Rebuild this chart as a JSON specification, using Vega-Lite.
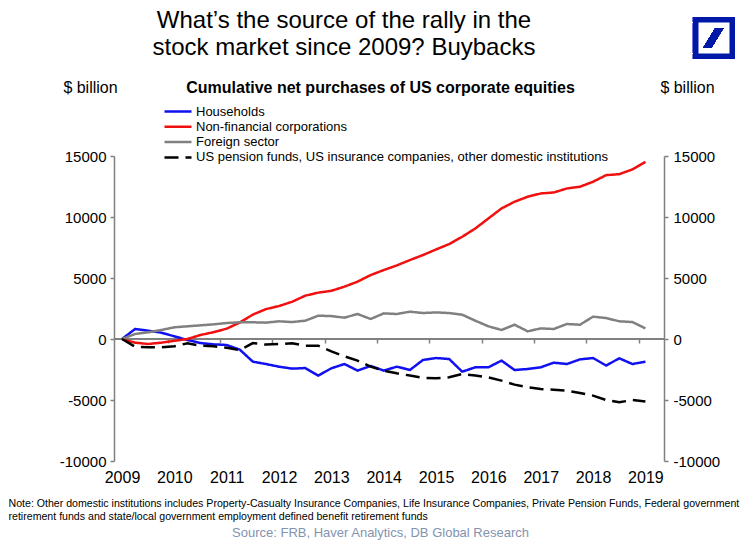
{
  "$schema": "https://vega.github.io/schema/vega-lite/v6.json",
  "width": 550,
  "height": 305,
  "autosize": "none",
  "padding": {"left": 114, "top": 156, "right": 91, "bottom": 86},
  "background": "white",
  "title": {
    "text": ["What’s the source of the rally in the", "stock market since 2009? Buybacks"],
    "font": "Liberation Sans",
    "fontSize": 24,
    "fontWeight": "normal",
    "color": "black",
    "anchor": "middle",
    "frame": "group",
    "dx": -45,
    "dy": 51,
    "offset": 0,
    "lineHeight": 27
  },
  "data": {
    "values": [
      {"t": 2009.00, "hh": 0, "nfc": 0, "fs": 0, "pen": 0},
      {"t": 2009.25, "hh": 820, "nfc": -300, "fs": 410, "pen": -630},
      {"t": 2009.50, "hh": 680, "nfc": -410, "fs": 550, "pen": -680},
      {"t": 2009.75, "hh": 520, "nfc": -300, "fs": 740, "pen": -680},
      {"t": 2010.00, "hh": 220, "nfc": -150, "fs": 960, "pen": -600},
      {"t": 2010.25, "hh": -80, "nfc": 0, "fs": 1040, "pen": -350},
      {"t": 2010.50, "hh": -330, "nfc": 330, "fs": 1120, "pen": -550},
      {"t": 2010.75, "hh": -440, "nfc": 560, "fs": 1200, "pen": -600},
      {"t": 2011.00, "hh": -490, "nfc": 850, "fs": 1310, "pen": -710},
      {"t": 2011.25, "hh": -870, "nfc": 1350, "fs": 1370, "pen": -900},
      {"t": 2011.50, "hh": -1860, "nfc": 2000, "fs": 1370, "pen": -330},
      {"t": 2011.75, "hh": -2050, "nfc": 2450, "fs": 1340, "pen": -460},
      {"t": 2012.00, "hh": -2270, "nfc": 2700, "fs": 1450, "pen": -410},
      {"t": 2012.25, "hh": -2430, "nfc": 3050, "fs": 1390, "pen": -350},
      {"t": 2012.50, "hh": -2380, "nfc": 3550, "fs": 1500, "pen": -550},
      {"t": 2012.75, "hh": -3000, "nfc": 3800, "fs": 1910, "pen": -550},
      {"t": 2013.00, "hh": -2400, "nfc": 3950, "fs": 1880, "pen": -1010},
      {"t": 2013.25, "hh": -2050, "nfc": 4290, "fs": 1750, "pen": -1420},
      {"t": 2013.50, "hh": -2590, "nfc": 4700, "fs": 2050, "pen": -1770},
      {"t": 2013.75, "hh": -2210, "nfc": 5240, "fs": 1640, "pen": -2270},
      {"t": 2014.00, "hh": -2590, "nfc": 5650, "fs": 2100, "pen": -2590},
      {"t": 2014.25, "hh": -2270, "nfc": 6030, "fs": 2050, "pen": -2810},
      {"t": 2014.50, "hh": -2540, "nfc": 6470, "fs": 2240, "pen": -3000},
      {"t": 2014.75, "hh": -1720, "nfc": 6880, "fs": 2130, "pen": -3190},
      {"t": 2015.00, "hh": -1560, "nfc": 7340, "fs": 2180, "pen": -3220},
      {"t": 2015.25, "hh": -1640, "nfc": 7780, "fs": 2130, "pen": -3140},
      {"t": 2015.50, "hh": -2680, "nfc": 8380, "fs": 1990, "pen": -2870},
      {"t": 2015.75, "hh": -2320, "nfc": 9060, "fs": 1500, "pen": -3000},
      {"t": 2016.00, "hh": -2320, "nfc": 9880, "fs": 1040, "pen": -3140},
      {"t": 2016.25, "hh": -1770, "nfc": 10700, "fs": 740, "pen": -3410},
      {"t": 2016.50, "hh": -2540, "nfc": 11250, "fs": 1170, "pen": -3740},
      {"t": 2016.75, "hh": -2460, "nfc": 11660, "fs": 630, "pen": -3960},
      {"t": 2017.00, "hh": -2320, "nfc": 11930, "fs": 870, "pen": -4100},
      {"t": 2017.25, "hh": -1940, "nfc": 12010, "fs": 820, "pen": -4150},
      {"t": 2017.50, "hh": -2050, "nfc": 12340, "fs": 1230, "pen": -4230},
      {"t": 2017.75, "hh": -1670, "nfc": 12480, "fs": 1170, "pen": -4420},
      {"t": 2018.00, "hh": -1560, "nfc": 12890, "fs": 1830, "pen": -4640},
      {"t": 2018.25, "hh": -2180, "nfc": 13430, "fs": 1720, "pen": -5000},
      {"t": 2018.50, "hh": -1580, "nfc": 13510, "fs": 1450, "pen": -5190},
      {"t": 2018.75, "hh": -2050, "nfc": 13900, "fs": 1390, "pen": -5000},
      {"t": 2019.00, "hh": -1860, "nfc": 14520, "fs": 870, "pen": -5130}
    ]
  },
  "resolve": {"scale": {"x": "shared", "y": "shared"}, "axis": {"x": "independent", "y": "independent"}},
  "layer": [
    {
      "mark": {"type": "rule", "color": "#808080", "strokeWidth": 1.5},
      "encoding": {
        "x": {
          "datum": 2008.847,
          "type": "quantitative",
          "scale": {"domain": [2008.847, 2019.355], "nice": false, "zero": false},
          "axis": {
            "orient": "bottom",
            "offset": -122,
            "values": [2009.87, 2010.87, 2011.87, 2012.87, 2013.87, 2014.87, 2015.87, 2016.87, 2017.87, 2018.87],
            "domain": false,
            "labels": false,
            "ticks": true,
            "tickSize": 4,
            "tickColor": "#808080",
            "tickWidth": 1.5,
            "grid": false,
            "title": "Source: FRB, Haver Analytics, DB Global Research",
            "titleX": 266,
            "titleY": 193,
            "titleAlign": "center",
            "titleBaseline": "middle",
            "titleFont": "Liberation Sans",
            "titleFontSize": 13,
            "titleFontWeight": "normal",
            "titleColor": "#8293b0"
          }
        },
        "x2": {"datum": 2019.355},
        "y": {
          "datum": 0,
          "type": "quantitative",
          "scale": {"domain": [-10000, 15000], "nice": false, "zero": false},
          "axis": {
            "orient": "right",
            "values": [-10000, -5000, 0, 5000, 10000, 15000],
            "labelExpr": "'' + datum.value",
            "grid": false,
            "domainColor": "#808080",
            "domainWidth": 1.5,
            "tickColor": "#808080",
            "tickWidth": 1.5,
            "tickSize": 4,
            "labelFont": "Liberation Sans",
            "labelFontSize": 15,
            "labelColor": "black",
            "labelPadding": 5,
            "labelFlush": false,
            "labelOverlap": false,
            "title": "$ billion",
            "titleAngle": 0,
            "titleX": 23,
            "titleY": -69,
            "titleAlign": "center",
            "titleBaseline": "middle",
            "titleFont": "Liberation Sans",
            "titleFontSize": 16,
            "titleFontWeight": "normal",
            "titleColor": "black"
          }
        }
      }
    },
    {
      "transform": [{"fold": ["hh", "nfc", "fs", "pen"], "as": ["series", "v"]}],
      "mark": {"type": "line", "strokeWidth": 2.5},
      "encoding": {
        "x": {
          "field": "t",
          "type": "quantitative",
          "scale": {"domain": [2008.847, 2019.355], "nice": false, "zero": false},
          "axis": {
            "orient": "bottom",
            "values": [2009, 2010, 2011, 2012, 2013, 2014, 2015, 2016, 2017, 2018, 2019],
            "labelExpr": "'' + datum.value",
            "domain": false,
            "ticks": false,
            "grid": false,
            "labelFont": "Liberation Sans",
            "labelFontSize": 16,
            "labelColor": "black",
            "labelPadding": 8,
            "labelFlush": false,
            "labelOverlap": false,
            "title": ["Note: Other domestic institutions includes Property-Casualty Insurance Companies, Life Insurance Companies, Private Pension Funds, Federal government", "retirement funds and state/local government employment defined benefit retirement funds"],
            "titleX": -106,
            "titleY": 37,
            "titleAlign": "left",
            "titleAnchor": "start",
            "titleBaseline": "top",
            "titleFont": "Liberation Sans",
            "titleFontSize": 10.6,
            "titleFontWeight": "normal",
            "titleColor": "black",
            "titleLineHeight": 13.5
          }
        },
        "y": {
          "field": "v",
          "type": "quantitative",
          "scale": {"domain": [-10000, 15000], "nice": false, "zero": false},
          "axis": {
            "orient": "left",
            "values": [-10000, -5000, 0, 5000, 10000, 15000],
            "labelExpr": "'' + datum.value",
            "grid": false,
            "domainColor": "#808080",
            "domainWidth": 1.5,
            "tickColor": "#808080",
            "tickWidth": 1.5,
            "tickSize": 4,
            "labelFont": "Liberation Sans",
            "labelFontSize": 15,
            "labelColor": "black",
            "labelPadding": 4,
            "labelFlush": false,
            "labelOverlap": false,
            "title": "$ billion",
            "titleAngle": 0,
            "titleX": -24,
            "titleY": -69,
            "titleAlign": "center",
            "titleBaseline": "middle",
            "titleFont": "Liberation Sans",
            "titleFontSize": 16,
            "titleFontWeight": "normal",
            "titleColor": "black"
          }
        },
        "color": {
          "field": "series",
          "type": "nominal",
          "scale": {"domain": ["hh", "nfc", "fs", "pen"], "range": ["#1010f0", "#f01010", "#808080", "#000000"]},
          "legend": {
            "title": null,
            "orient": "none",
            "legendX": 49,
            "legendY": -52,
            "padding": 0,
            "symbolType": "stroke",
            "symbolSize": 729,
            "symbolStrokeWidth": 2.5,
            "clipHeight": 15,
            "rowPadding": 0.3,
            "labelFont": "Liberation Sans",
            "labelFontSize": 13,
            "labelColor": "black",
            "labelOffset": 3,
            "labelLimit": 600,
            "labelExpr": "datum.label == 'hh' ? 'Households' : datum.label == 'nfc' ? 'Non-financial corporations' : datum.label == 'fs' ? 'Foreign sector' : 'US pension funds, US insurance companies, other domestic institutions'"
          }
        },
        "strokeDash": {
          "field": "series",
          "type": "nominal",
          "scale": {"domain": ["hh", "nfc", "fs", "pen"], "range": [[1, 0], [1, 0], [1, 0], [14, 7]]},
          "legend": {
            "title": null,
            "orient": "none",
            "legendX": 49,
            "legendY": -52,
            "padding": 0,
            "symbolType": "stroke",
            "symbolSize": 729,
            "symbolStrokeWidth": 2.5,
            "clipHeight": 15,
            "rowPadding": 0.3,
            "labelFont": "Liberation Sans",
            "labelFontSize": 13,
            "labelColor": "black",
            "labelOffset": 3,
            "labelLimit": 600,
            "labelExpr": "datum.label == 'hh' ? 'Households' : datum.label == 'nfc' ? 'Non-financial corporations' : datum.label == 'fs' ? 'Foreign sector' : 'US pension funds, US insurance companies, other domestic institutions'"
          }
        }
      }
    },
    {
      "mark": {"type": "point", "shape": "square", "size": 1332, "filled": false, "fill": "white", "stroke": "#0018a8", "strokeWidth": 5.5, "opacity": 1},
      "encoding": {
        "x": {
          "datum": 2020.31,
          "type": "quantitative",
          "scale": {"domain": [2008.847, 2019.355], "nice": false, "zero": false},
          "axis": {
            "orient": "top",
            "labels": false,
            "ticks": false,
            "domain": false,
            "grid": false,
            "title": "Cumulative net purchases of US corporate equities",
            "titleX": 266,
            "titleY": -69,
            "titleAlign": "center",
            "titleBaseline": "middle",
            "titleFont": "Liberation Sans",
            "titleFontSize": 16,
            "titleFontWeight": "bold",
            "titleColor": "black"
          }
        },
        "y": {
          "datum": 24672,
          "type": "quantitative",
          "scale": {"domain": [-10000, 15000], "nice": false, "zero": false},
          "axis": null
        }
      }
    },
    {
      "mark": {"type": "point", "shape": "M -0.5 0.45 L -0.12 0.45 L 0.45 -0.48 L 0.07 -0.48 Z", "size": 1764, "filled": true, "color": "#0018a8", "opacity": 1},
      "encoding": {
        "x": {
          "datum": 2020.31,
          "type": "quantitative",
          "scale": {"domain": [2008.847, 2019.355], "nice": false, "zero": false},
          "axis": null
        },
        "y": {
          "datum": 24672,
          "type": "quantitative",
          "scale": {"domain": [-10000, 15000], "nice": false, "zero": false},
          "axis": null
        }
      }
    }
  ],
  "config": {
    "view": {"stroke": null},
    "font": "Liberation Sans"
  }
}
